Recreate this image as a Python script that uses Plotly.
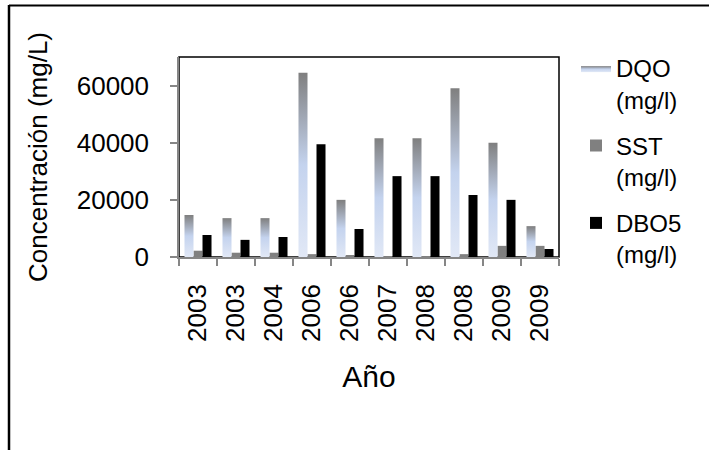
import numpy as np
import plotly.graph_objects as go

# Sampling campaigns (year of each sample) and measured concentrations
years = ["2003", "2003", "2004", "2006", "2006", "2007", "2008", "2008", "2009", "2009"]
dqo = [14700, 13600, 13600, 64500, 20000, 41600, 41600, 59100, 40000, 10800]
sst = [2200, 1500, 1500, 1000, 700, 150, 150, 1000, 3900, 3900]
dbo5 = [7700, 6000, 7000, 39500, 9800, 28300, 28300, 21700, 20000, 2800]

FONT = "Arial, Liberation Sans, sans-serif"
AXIS_GREY = "#868686"
bar_w = 0.237            # width of one bar in category units
xs = np.arange(len(years))

# vertical fill for the DQO columns: light at the base, grey at the top
dqo_scale = [[0.0, "#e1e8f6"], [0.5, "#c4d3ee"], [1.0, "#7f7f7f"]]

fig = go.Figure()

for i, v in enumerate(dqo):
    x0 = xs[i] - 1.5 * bar_w
    x1 = xs[i] - 0.5 * bar_w
    fig.add_trace(go.Scatter(
        x=[x0, x1, x1, x0, x0], y=[0, 0, v, v, 0],
        mode="lines", line=dict(width=0),
        fill="toself",
        fillgradient=dict(type="vertical", colorscale=dqo_scale),
        name="DQO<br>(mg/l)", legendgroup="dqo", showlegend=(i == 0),
        hoverinfo="skip",
    ))

fig.add_trace(go.Bar(
    x=xs, y=sst, width=bar_w, offset=-0.5 * bar_w,
    marker=dict(color="#808080", line=dict(width=0)),
    name="SST<br>(mg/l)", legendgroup="sst",
))
fig.add_trace(go.Bar(
    x=xs, y=dbo5, width=bar_w, offset=0.5 * bar_w,
    marker=dict(color="#000000", line=dict(width=0)),
    name="DBO5<br>(mg/l)", legendgroup="dbo5",
))

# plot-area border and the outer frame (top and left edges)
shapes = [
    dict(type="rect", xref="paper", yref="paper", x0=0, y0=0, x1=1, y1=1,
         line=dict(color="#000000", width=1.5), layer="below"),
    dict(type="line", xref="paper", yref="paper",
         x0=(9 - 179) / 380, x1=1.5, y0=(257 - 5.5) / 200, y1=(257 - 5.5) / 200,
         line=dict(color="#000000", width=2)),
    dict(type="line", xref="paper", yref="paper",
         x0=(9 - 179) / 380, x1=(9 - 179) / 380, y0=(257 - 5) / 200, y1=-1.1,
         line=dict(color="#000000", width=2.5)),
]

fig.update_layout(
    width=709, height=450,
    margin=dict(l=179, r=150, t=57, b=193, pad=0),
    paper_bgcolor="white", plot_bgcolor="white",
    font=dict(family=FONT, color="#000000"),
    barmode="overlay",
    shapes=shapes,
    showlegend=True,
    legend=dict(
        x=(576 - 179) / 380, xanchor="left",
        y=(257 - 46) / 200, yanchor="top",
        font=dict(size=24, family=FONT),
        valign="top", tracegroupgap=12,
        maxheight=440,
        bgcolor="rgba(0,0,0,0)", borderwidth=0,
        traceorder="grouped",
    ),
    xaxis=dict(
        range=[-0.5, len(years) - 0.5],
        tickmode="array", tickvals=list(xs), ticktext=years,
        tickangle=-90, tickfont=dict(size=26),
        ticks="outside", ticklen=0,
        ticklabelstandoff=15,
        minor=dict(tickmode="array", tickvals=[i - 0.5 for i in range(len(years) + 1)],
                   ticks="outside", ticklen=7, tickwidth=1.5, tickcolor=AXIS_GREY,
                   showgrid=False),
        showline=True, linecolor=AXIS_GREY, linewidth=1.5,
        showgrid=False, zeroline=False,
        title=dict(text="Año", font=dict(size=30), standoff=25),
        automargin=False,
    ),
    yaxis=dict(
        range=[0, 70000],
        tickmode="array", tickvals=[0, 20000, 40000, 60000],
        tickformat="d", tickfont=dict(size=26),
        ticks="outside", ticklen=7, tickwidth=1.5, tickcolor=AXIS_GREY,
        ticklabelstandoff=16,
        showline=True, linecolor=AXIS_GREY, linewidth=1.5,
        showgrid=False, zeroline=False,
        title=dict(text="Concentración (mg/L)", font=dict(size=26), standoff=22),
        automargin=False,
    ),
)

fig.write_html("out.html")
